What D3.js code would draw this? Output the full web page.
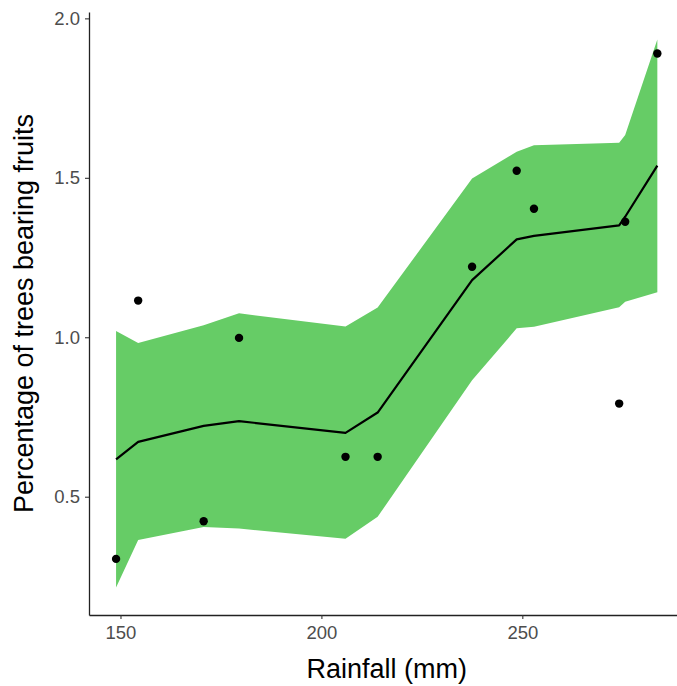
<!DOCTYPE html>
<html>
<head>
<meta charset="utf-8">
<script src="https://cdn.jsdelivr.net/npm/d3@7"></script>
<style>
  body { margin: 0; background: #fff; }
  text { font-family: "Liberation Sans", Arial, sans-serif; }
</style>
</head>
<body>
<div id="canvas"></div>
<script>
// observed points (rainfall mm, percentage of trees bearing fruits)
const rainfall = [148.9, 154.4, 170.7, 179.5, 206.0, 214.0, 237.5, 248.6, 252.9, 274.1, 275.6, 283.6];
const fruits   = [0.305, 1.115, 0.423, 0.998, 0.625, 0.625, 1.221, 1.522, 1.403, 0.792, 1.362, 1.890];

// fitted curve and its band, evaluated at the same rainfall values
const fitMid   = [0.617, 0.672, 0.722, 0.737, 0.700, 0.764, 1.179, 1.307, 1.318, 1.351, 1.378, 1.538];
const fitLower = [0.215, 0.364, 0.405, 0.400, 0.368, 0.437, 0.865, 1.028, 1.033, 1.094, 1.111, 1.141];
const fitUpper = [1.020, 0.982, 1.038, 1.075, 1.034, 1.093, 1.498, 1.582, 1.602, 1.610, 1.634, 1.934];

const xTicks = [150, 200, 250];
const yTicks = [0.5, 1.0, 1.5, 2.0];

const w = 677, h = 686;
const padL = 89, padB = 615, padT = 12, padR = 684.4;

const svg = d3.select('#canvas').append('svg').attr('width', w).attr('height', h);

// ggplot-style 5% expansion around the data
const xMin = d3.min(rainfall), xMax = d3.max(rainfall);
const xPad = (xMax - xMin) * 0.05;
const yMin = d3.min(fitLower), yMax = d3.max(fitUpper);
const yPad = (yMax - yMin) * 0.05;

const x = d3.scaleLinear().domain([xMin - xPad, xMax + xPad]).range([padL, padR]);
const y = d3.scaleLinear().domain([yMin - yPad, yMax + yPad]).range([padB, padT]);

const idx = d3.range(rainfall.length);

// band
const area = d3.area()
  .x(i => x(rainfall[i]))
  .y0(i => y(fitLower[i]))
  .y1(i => y(fitUpper[i]));
svg.append('path').datum(idx).attr('d', area).attr('fill', '#66cc66');

// fitted line
const line = d3.line().x(i => x(rainfall[i])).y(i => y(fitMid[i]));
svg.append('path').datum(idx).attr('d', line)
  .attr('fill', 'none').attr('stroke', '#000').attr('stroke-width', 2.2)
  .attr('stroke-linejoin', 'round');

// points
svg.selectAll('circle.pt').data(idx).enter().append('circle')
  .attr('class', 'pt')
  .attr('cx', i => x(rainfall[i]))
  .attr('cy', i => y(fruits[i]))
  .attr('r', 4.2)
  .attr('fill', '#000');

// axes
const xAxis = d3.axisBottom(x).tickValues(xTicks).tickFormat(d3.format('d'))
  .tickSize(4).tickSizeOuter(0).tickPadding(7);
const gx = svg.append('g').attr('transform', 'translate(0,' + padB + ')').call(xAxis);

const yAxis = d3.axisLeft(y).tickValues(yTicks).tickFormat(d3.format('.1f'))
  .tickSize(4).tickSizeOuter(0).tickPadding(5);
const gy = svg.append('g').attr('transform', 'translate(' + padL + ',0)').call(yAxis);

[gx, gy].forEach(g => {
  g.select('.domain').attr('stroke', '#222').attr('stroke-width', 1.3);
  g.selectAll('.tick line').attr('stroke', '#333').attr('stroke-width', 1.1);
  g.selectAll('.tick text').attr('fill', '#4d4d4d')
    .style('font-size', '18.5px').style('font-family', '"Liberation Sans", Arial, sans-serif');
});

// titles
svg.append('text').text('Rainfall (mm)')
  .attr('x', (padL + padR) / 2).attr('y', 678)
  .attr('text-anchor', 'middle').attr('fill', '#000')
  .style('font-size', '27px');

svg.append('text').text('Percentage of trees bearing fruits')
  .attr('transform', 'translate(33,' + ((padT + padB) / 2) + ') rotate(-90)')
  .attr('text-anchor', 'middle').attr('fill', '#000')
  .style('font-size', '27px');
</script>
</body>
</html>
